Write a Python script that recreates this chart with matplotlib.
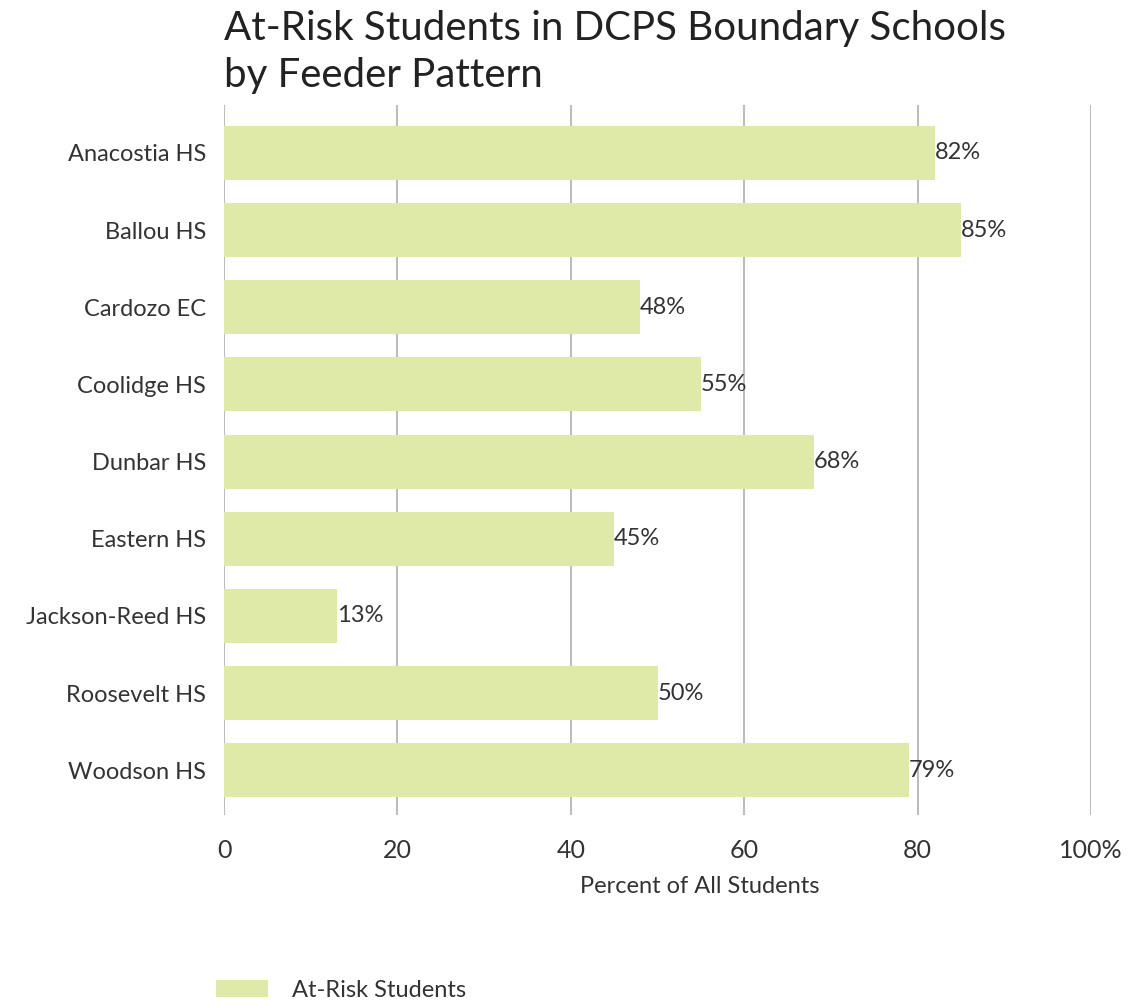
import numpy as np
import matplotlib
matplotlib.use("Agg")
import matplotlib.pyplot as plt

plt.rcParams["font.family"] = ["Lato", "DejaVu Sans"]

# ── Data ──────────────────────────────────────────────────────────────────────
schools = ["Anacostia HS", "Ballou HS", "Cardozo EC", "Coolidge HS", "Dunbar HS",
           "Eastern HS", "Jackson-Reed HS", "Roosevelt HS", "Woodson HS"]
at_risk = [82, 85, 48, 55, 68, 45, 13, 50, 79]
value_labels = ["82%", "85%", "48%", "55%", "68%", "45%", "13%", "50%", "79%"]
xticks = [0, 20, 40, 60, 80, 100]
xtick_labels = ["0", "20", "40", "60", "80", "100%"]

BAR_COLOR = "#e0eaa8"
TEXT_COLOR = "#333333"
GRID_COLOR = "#bdbdbd"

# ── Figure ────────────────────────────────────────────────────────────────────
W, H = 1128, 1001
fig = plt.figure(figsize=(W / 100, H / 100), dpi=100)
ax = fig.add_axes([224 / W, 1 - 815 / H, (1091 - 224) / W, (815 - 105) / H])

y = np.arange(len(schools))
ax.barh(y, at_risk, height=0.7, color=BAR_COLOR, label="At-Risk Students", zorder=2)

for yi, v, lbl in zip(y, at_risk, value_labels):
    ax.text(v, yi, lbl, va="center", ha="left", fontsize=17, color=TEXT_COLOR, zorder=3)

ax.set_xlim(0, 100)
ax.set_ylim(len(schools) - 1 + 0.58, -0.62)
ax.set_yticks(y)
ax.set_yticklabels(schools, fontsize=17, color=TEXT_COLOR)
ax.set_xticks(xticks)
ax.set_xticklabels(xtick_labels, fontsize=18, color=TEXT_COLOR)
ax.tick_params(axis="both", length=0)
ax.tick_params(axis="x", pad=17)
ax.tick_params(axis="y", pad=13)
ax.set_xlabel("Percent of All Students", fontsize=17, color=TEXT_COLOR)
ax.xaxis.set_label_coords((700 - 224) / (1091 - 224), -0.086)
ax.grid(axis="x", color=GRID_COLOR, lw=1.5, zorder=0)
ax.set_axisbelow(True)
for s in ax.spines.values():
    s.set_visible(False)

fig.text(224 / W, 1 - 10 / H, "At-Risk Students in DCPS Boundary Schools\nby Feeder Pattern",
         ha="left", va="top", fontsize=29, color="#222222", linespacing=1.35)

fig.legend(loc="upper left", bbox_to_anchor=(216 / W, 1 - 980 / H), frameon=False,
           fontsize=17, handlelength=2.2, handleheight=0.7, handletextpad=1.0,
           borderpad=0, borderaxespad=0, labelcolor=TEXT_COLOR)

fig.savefig("out.png", dpi=100)
